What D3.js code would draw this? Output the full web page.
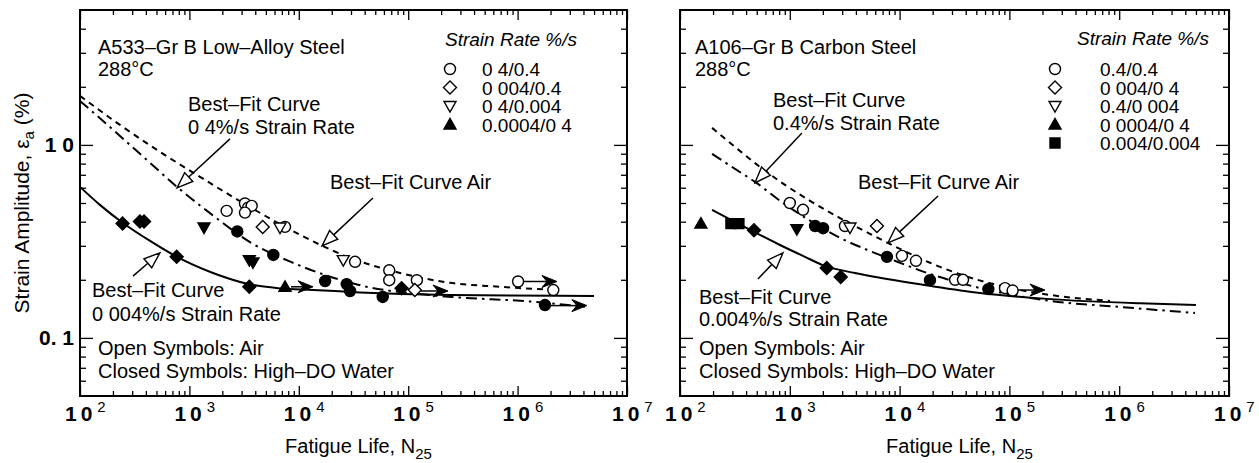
<!DOCTYPE html>
<html>
<head>
<meta charset="utf-8">
<script src="https://cdn.jsdelivr.net/npm/d3@7"></script>
<style>
  html, body { margin: 0; padding: 0; background: #fff; }
  svg text { font-family: "Liberation Sans", Arial, Helvetica, sans-serif; fill: #000; }
</style>
</head>
<body>
<svg id="chart" width="1259" height="463"></svg>
<script>
// ---------------- axis ticks ----------------
const xTickExponents = [2, 3, 4, 5, 6, 7];
const yTickValues = [1, 0.1];
const yTickLabels = ["1 0", "0. 1"];

// ---------------- A533-Gr B low-alloy steel, 288°C ----------------
// best-fit curves, [fatigue life N25, strain amplitude %]
const a533AirCurve = [[100,1.794],[232,1.269],[539,0.920],[1250,0.683],[3430,0.483],[10250,0.342],[29400,0.260],[84100,0.217],[241000,0.193],[690000,0.184],[2290000,0.177]];
const a533Rate04Curve = [[100,1.690],[232,1.113],[437,0.807],[770,0.606],[1450,0.455],[3815,0.307],[8850,0.245],[38600,0.186],[195000,0.165],[1380000,0.154],[4130000,0.145]];
const a533Rate0004Curve = [[100,0.606],[152,0.489],[247,0.394],[437,0.318],[770,0.263],[1643,0.217],[3360,0.191],[6730,0.1805],[13500,0.1773],[36200,0.172],[241000,0.167],[5000000,0.165]];
// test data
const a533AirCircle = [[2190,0.455],[3220,0.497],[3440,0.473],[3710,0.483],[3220,0.446],[7480,0.376],[32700,0.248],[67100,0.224],[67100,0.199],[120000,0.199],[1010000,0.196],[2120000,0.177]];
const a533AirDiamond = [[4680,0.376],[115000,0.177]];
const a533AirTriDown = [[6730,0.373],[25500,0.253]];
const a533WaterCircle = [[2740,0.356],[5850,0.269],[17400,0.197],[27400,0.190],[29400,0.175],[58500,0.163],[1780000,0.148]];
const a533WaterDiamond = [[245,0.391],[353,0.401],[385,0.401],[765,0.263],[3530,0.184],[87000,0.181]];
const a533WaterTriDown = [[1360,0.373],[3530,0.253],[3810,0.246]];
const a533WaterTriUp = [[7480,0.184]];
// run-outs: [N where the test stopped, strain amplitude, arrow end N]
const a533Runouts = [[7480,0.184,13500],[115000,0.175,231000],[1010000,0.196,2290000],[1780000,0.147,4300000]];
const a533Legend = ["0 4/0.4", "0 004/0.4", "0 4/0.004", "0.0004/0 4"];

// ---------------- A106-Gr B carbon steel, 288°C ----------------
const a106AirCurve = [[196,1.225],[317,0.976],[535,0.769],[904,0.621],[1528,0.513],[2866,0.418],[5375,0.346],[10080,0.289],[18920,0.245],[39400,0.2095],[91200,0.1837],[234000,0.167],[824000,0.1555]];
const a106Rate04Curve = [[196,0.898],[317,0.751],[482,0.643],[867,0.5005],[1593,0.399],[2866,0.330],[4840,0.289],[8175,0.2567],[18920,0.2146],[63830,0.1773],[234000,0.1555],[1017000,0.1447],[4900000,0.1347]];
const a106Rate0004Curve = [[196,0.4605],[304,0.404],[492,0.350],[814,0.303],[1375,0.263],[2084,0.236],[3916,0.217],[6630,0.2047],[18920,0.186],[54000,0.171],[220000,0.1593],[1547000,0.151],[5000000,0.148]];
const a106AirCircle = [[1000,0.500],[1320,0.461],[3180,0.380],[10500,0.266],[14100,0.251],[32000,0.200],[37800,0.200],[91200,0.181],[107000,0.176]];
const a106AirDiamond = [[6220,0.380]];
const a106AirTriDown = [[3530,0.373]];
const a106WaterCircle = [[1700,0.380],[2010,0.370],[7670,0.263],[18900,0.199],[64300,0.179]];
const a106WaterDiamond = [[472,0.361],[2170,0.230],[2910,0.207]];
const a106WaterTriDown = [[1160,0.366]];
const a106WaterTriUp = [[155,0.391]];
const a106WaterSquare = [[291,0.391],[344,0.391]];
const a106Runouts = [[95000,0.177,211000]];
const a106Legend = ["0.4/0.4", "0 004/0 4", "0.4/0 004", "0 0004/0 4", "0.004/0.004"];

// ---------------- drawing ----------------
const svg = d3.select("#chart");
const plotTop = 10, plotBottom = 396;
const FONT = 20;

function symbolPath(type) {
  switch (type) {
    case "circle": return "M5.5,0A5.5,5.5 0 1,1 -5.5,0A5.5,5.5 0 1,1 5.5,0Z";
    case "diamond": return "M0,-6.5L6.5,0L0,6.5L-6.5,0Z";
    case "triDown": return "M-6,-4.5L6,-4.5L0,6Z";
    case "triUp": return "M-6,4.5L6,4.5L0,-6Z";
    case "square": return "M-5,-5L5,-5L5,5L-5,5Z";
  }
}

function drawPanel(p) {
  const g = svg.append("g");
  const x = d3.scaleLog().domain([1e2, 1e7]).range([p.x0, p.x1]);
  const y = d3.scaleLog().domain([0.05, 5]).range([plotBottom, plotTop]);

  // ticks (all inward)
  const xMajor = xTickExponents.map(e => Math.pow(10, e));
  const xMinor = [];
  for (let e = 2; e < 7; e++) for (let m = 2; m <= 9; m++) xMinor.push(m * Math.pow(10, e));
  const yMajor = yTickValues;
  const yMinor = [0.06,0.07,0.08,0.09,0.2,0.3,0.4,0.5,0.6,0.7,0.8,0.9,2,3,4];
  const strip = s => s.call(a => a.select(".domain").remove())
                      .call(a => a.selectAll("line").attr("stroke", "#000").attr("stroke-width", 1.3));
  const axes = [
    [d3.axisBottom(x).tickValues(xMajor).tickSize(-10), `translate(0,${plotBottom})`],
    [d3.axisBottom(x).tickValues(xMinor).tickSize(-5), `translate(0,${plotBottom})`],
    [d3.axisTop(x).tickValues(xMajor).tickSize(-10), `translate(0,${plotTop})`],
    [d3.axisTop(x).tickValues(xMinor).tickSize(-5), `translate(0,${plotTop})`],
    [d3.axisLeft(y).tickValues(yMajor).tickSize(-13), `translate(${p.x0},0)`],
    [d3.axisLeft(y).tickValues(yMinor).tickSize(-6), `translate(${p.x0},0)`],
    [d3.axisRight(y).tickValues(yMajor).tickSize(-13), `translate(${p.x1},0)`],
    [d3.axisRight(y).tickValues(yMinor).tickSize(-6), `translate(${p.x1},0)`]
  ];
  axes.forEach(([ax, tr]) => {
    g.append("g").attr("transform", tr).call(ax.tickFormat("")).call(strip);
  });

  // frame
  g.append("rect").attr("x", p.x0).attr("y", plotTop)
    .attr("width", p.x1 - p.x0).attr("height", plotBottom - plotTop)
    .attr("fill", "none").attr("stroke", "#000").attr("stroke-width", 2);

  // x tick labels 10^n, the "10" sits on the tick, exponent hangs to the right
  xTickExponents.forEach(e => {
    const t = g.append("text").attr("x", x(Math.pow(10, e)) - 15).attr("y", 421)
      .attr("text-anchor", "start").attr("font-size", 21).attr("font-weight", "bold");
    t.append("tspan").attr("letter-spacing", 4).text("10");
    t.append("tspan").attr("font-size", 15).attr("dx", 1).attr("dy", -9).attr("font-weight", "normal").text(String(e));
  });

  // x axis title
  const xt = g.append("text").attr("x", (p.x0 + p.x1) / 2 + 5).attr("y", 453)
    .attr("text-anchor", "middle").attr("font-size", FONT);
  xt.append("tspan").text("Fatigue Life, N");
  xt.append("tspan").attr("font-size", 15).attr("dy", 6).text("25");

  // curves
  const line = d3.line().x(d => x(d[0])).y(d => y(d[1])).curve(d3.curveMonotoneX);
  p.curves.forEach(c => {
    g.append("path").attr("d", line(c.data)).attr("fill", "none")
      .attr("stroke", "#000").attr("stroke-width", 2)
      .attr("stroke-dasharray", c.dash);
  });

  // run-out arrows
  p.runouts.forEach(r => {
    const x1 = x(r[0]) + 6, x2 = x(r[2]), yy = y(r[1]);
    g.append("line").attr("x1", x1).attr("y1", yy).attr("x2", x2 - 8).attr("y2", yy)
      .attr("stroke", "#000").attr("stroke-width", 1.5);
    g.append("path").attr("d", `M${x2},${yy}L${x2 - 15},${yy - 6}L${x2 - 10},${yy}L${x2 - 15},${yy + 6}Z`)
      .attr("fill", "#000").attr("stroke", "#000").attr("stroke-width", 1);
  });

  // data symbols
  p.series.forEach(s => {
    g.append("g").selectAll("path").data(s.data).join("path")
      .attr("transform", d => `translate(${x(d[0])},${y(d[1])})`)
      .attr("d", symbolPath(s.type))
      .attr("fill", s.filled ? "#000" : "#fff")
      .attr("stroke", "#000").attr("stroke-width", 1.4);
  });

  // annotation arrows with open heads
  p.arrows.forEach(a => {
    const x1 = x(a.tail[0]), y1 = y(a.tail[1]), x2 = x(a.tip[0]), y2 = y(a.tip[1]);
    const ang = Math.atan2(y2 - y1, x2 - x1), L = 16, w = 6;
    const bx = x2 - L * Math.cos(ang), by = y2 - L * Math.sin(ang);
    g.append("line").attr("x1", x1).attr("y1", y1).attr("x2", bx).attr("y2", by)
      .attr("stroke", "#000").attr("stroke-width", 1.5);
    g.append("path")
      .attr("d", `M${x2},${y2}L${bx + w * Math.sin(ang)},${by - w * Math.cos(ang)}L${bx - w * Math.sin(ang)},${by + w * Math.cos(ang)}Z`)
      .attr("fill", "#fff").attr("stroke", "#000").attr("stroke-width", 1.4);
  });

  // annotation text
  p.texts.forEach(t => {
    g.append("text").attr("x", t[1]).attr("y", t[2]).attr("font-size", FONT).text(t[0]);
  });

  // legend
  const lg = p.legend;
  g.append("text").attr("x", lg.titleX).attr("y", lg.titleY).attr("font-size", 19)
    .attr("font-style", "italic").text("Strain Rate %/s");
  lg.labels.forEach((lab, i) => {
    const cy = lg.rowY + i * lg.step;
    g.append("path").attr("transform", `translate(${lg.symX},${cy})`)
      .attr("d", symbolPath(lg.types[i])).attr("fill", lg.filled[i] ? "#000" : "#fff")
      .attr("stroke", "#000").attr("stroke-width", 1.4);
    g.append("text").attr("x", lg.textX).attr("y", cy + 7).attr("font-size", 19).text(lab);
  });
  return {x, y};
}

const left = drawPanel({
  x0: 80, x1: 627,
  curves: [
    {data: a533AirCurve, dash: "6,5"},
    {data: a533Rate04Curve, dash: "11,5,2.5,5"},
    {data: a533Rate0004Curve, dash: null}
  ],
  series: [
    {data: a533AirCircle, type: "circle", filled: false},
    {data: a533AirDiamond, type: "diamond", filled: false},
    {data: a533AirTriDown, type: "triDown", filled: false},
    {data: a533WaterCircle, type: "circle", filled: true},
    {data: a533WaterDiamond, type: "diamond", filled: true},
    {data: a533WaterTriDown, type: "triDown", filled: true},
    {data: a533WaterTriUp, type: "triUp", filled: true}
  ],
  runouts: a533Runouts,
  arrows: [
    {tail: [2350, 1.074], tip: [770, 0.599]},
    {tail: [47600, 0.531], tip: [16300, 0.300]},
    {tail: [305, 0.209], tip: [538, 0.276]}
  ],
  texts: [
    ["A533–Gr B Low–Alloy Steel", 98, 54],
    ["288°C", 98, 76],
    ["Best–Fit Curve", 188, 111],
    ["0 4%/s Strain Rate", 188, 134],
    ["Best–Fit Curve Air", 330, 189],
    ["Best–Fit Curve", 92, 297],
    ["0 004%/s Strain Rate", 92, 321],
    ["Open Symbols: Air", 98, 355],
    ["Closed Symbols: High–DO Water", 98, 378]
  ],
  legend: {titleX: 445, titleY: 46, symX: 450, textX: 482, rowY: 69, step: 18.5,
           labels: a533Legend, types: ["circle", "diamond", "triDown", "triUp"],
           filled: [false, false, false, true]}
});

const right = drawPanel({
  x0: 680, x1: 1229,
  curves: [
    {data: a106AirCurve, dash: "6,5"},
    {data: a106Rate04Curve, dash: "11,5,2.5,5"},
    {data: a106Rate0004Curve, dash: null}
  ],
  series: [
    {data: a106AirCircle, type: "circle", filled: false},
    {data: a106AirDiamond, type: "diamond", filled: false},
    {data: a106AirTriDown, type: "triDown", filled: false},
    {data: a106WaterCircle, type: "circle", filled: true},
    {data: a106WaterDiamond, type: "diamond", filled: true},
    {data: a106WaterTriDown, type: "triDown", filled: true},
    {data: a106WaterTriUp, type: "triUp", filled: true},
    {data: a106WaterSquare, type: "square", filled: true}
  ],
  runouts: a106Runouts,
  arrows: [
    {tail: [1290, 1.154], tip: [482, 0.636]},
    {tail: [22400, 0.544], tip: [7830, 0.311]},
    {tail: [513, 0.202], tip: [867, 0.276]}
  ],
  texts: [
    ["A106–Gr B Carbon Steel", 695, 54],
    ["288°C", 695, 76],
    ["Best–Fit Curve", 773, 107],
    ["0.4%/s Strain Rate", 773, 130],
    ["Best–Fit Curve Air", 858, 189],
    ["Best–Fit Curve", 699, 304],
    ["0.004%/s Strain Rate", 699, 326],
    ["Open Symbols: Air", 699, 355],
    ["Closed Symbols: High–DO Water", 699, 378]
  ],
  legend: {titleX: 1077, titleY: 45, symX: 1055, textX: 1100, rowY: 69, step: 18.5,
           labels: a106Legend, types: ["circle", "diamond", "triDown", "triUp", "square"],
           filled: [false, false, false, true, true]}
});

// y tick labels (left panel only)
yTickValues.forEach((v, i) => {
  svg.append("text").attr("x", 74).attr("y", left.y(v) + 7)
    .attr("text-anchor", "end").attr("font-size", 21).attr("font-weight", "bold")
    .text(yTickLabels[i]);
});

// y axis title
const yt = svg.append("text").attr("transform", "translate(29,203) rotate(-90)")
  .attr("text-anchor", "middle").attr("font-size", 21);
yt.append("tspan").text("Strain Amplitude, ε");
yt.append("tspan").attr("font-size", 15).attr("dy", 5).text("a");
yt.append("tspan").attr("dy", -5).text(" (%)");
</script>
</body>
</html>
